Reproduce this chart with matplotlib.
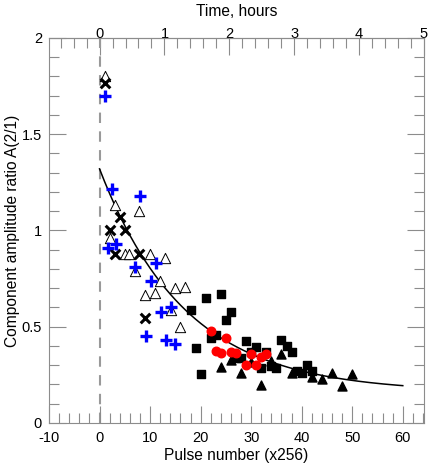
import numpy as np
import matplotlib.pyplot as plt
from matplotlib.ticker import MultipleLocator

plt.rcParams['font.family'] = ['Liberation Sans', 'DejaVu Sans']
plt.rcParams['axes.unicode_minus'] = False

# pulses per hour (x256 units) for the top axis
PPH = 12.84

# blue crosses
plus_x = [1, 2.4, 8.1, 1.6, 3.2, 7.1, 11.1, 10.1, 14.1, 12.1, 9.1, 13.1, 15.0]
plus_y = [1.70, 1.214, 1.18, 0.91, 0.928, 0.81, 0.83, 0.74, 0.60, 0.575, 0.45, 0.43, 0.41]

# black x
x_x = [1, 4, 2, 5, 3, 7.8, 9]
x_y = [1.768, 1.07, 1.00, 1.005, 0.88, 0.88, 0.544]

# open triangles
otri_x = [1, 3, 7.9, 2, 5, 5.9, 9.9, 12.9, 7, 11.9, 8.9, 10.9, 14.9, 17, 14.1, 16]
otri_y = [1.80, 1.13, 1.10, 0.96, 0.88, 0.88, 0.88, 0.855, 0.79, 0.735, 0.665, 0.677,
          0.70, 0.708, 0.587, 0.50]

# black squares
sq_x = [18, 21, 24, 26, 25, 19, 20, 22, 23, 29, 31, 30, 33, 27, 28, 32, 34, 35,
        36, 37, 38, 41, 39, 40, 42]
sq_y = [0.587, 0.648, 0.67, 0.575, 0.535, 0.39, 0.253, 0.44, 0.455, 0.426, 0.397,
        0.369, 0.369, 0.336, 0.336, 0.287, 0.296, 0.286, 0.431, 0.40, 0.369, 0.30,
        0.27, 0.261, 0.27]

# red circles
red_x = [22, 25, 23, 24, 26, 27, 30, 29, 31, 32, 33]
red_y = [0.48, 0.44, 0.376, 0.362, 0.369, 0.362, 0.36, 0.30, 0.30, 0.345, 0.358]

# black filled triangles
tri_x = [24, 26, 28, 30, 32, 34, 36, 38, 42, 44, 46, 48, 50]
tri_y = [0.293, 0.327, 0.258, 0.315, 0.197, 0.324, 0.358, 0.258, 0.24, 0.23, 0.261,
         0.194, 0.253]

# exponential fit y = c + a*exp(-x/tau)
fit_a, fit_tau, fit_c = 1.16, 17.0, 0.16

fig = plt.figure(figsize=(4.36, 4.63), dpi=100)
ax = fig.add_axes([0.1124, 0.0864, 0.8601, 0.8316])

ax.axvline(0, color='#999999', ls=(0, (5, 4)), lw=1.5, zorder=1)

xf = np.linspace(0, 60, 300)
ax.plot(xf, fit_c + fit_a * np.exp(-xf / fit_tau), color='black', lw=1.1, zorder=2)

ax.scatter(otri_x, otri_y, marker='^', s=55, facecolors='white', edgecolors='black',
           linewidths=0.7, zorder=3)
ax.scatter(sq_x, sq_y, marker='s', s=30, color='black', zorder=3)
ax.scatter(tri_x, tri_y, marker='^', s=42, color='black', zorder=3)
ax.scatter(red_x, red_y, marker='o', s=38, color='red', zorder=4)
ax.scatter(x_x, x_y, marker='x', s=48, color='black', linewidths=2.2, zorder=5)
ax.scatter(plus_x, plus_y, marker='+', s=75, color='blue', linewidths=2.4, zorder=5)

ax.set_xlim(-10, 64.2)
ax.set_ylim(0, 2)
ax.xaxis.set_major_locator(MultipleLocator(10))
ax.xaxis.set_minor_locator(MultipleLocator(2))
ax.yaxis.set_minor_locator(MultipleLocator(0.1))
ax.set_yticks([0, 0.5, 1, 1.5, 2], ['0', '0.5', '1', '1.5', '2'])

gray = '#8c8c8c'
for s in ax.spines.values():
    s.set_color(gray)
ax.tick_params(which='both', direction='in', color=gray, right=True, labelsize=10.5)
ax.tick_params(which='major', length=12, width=0.8)
ax.tick_params(which='minor', length=7, width=0.8)
ax.tick_params(axis='x', which='both', top=False, pad=6)
ax.tick_params(axis='y', pad=5)

top = ax.secondary_xaxis('top', functions=(lambda p: p / PPH, lambda h: h * PPH))
top.xaxis.set_major_locator(MultipleLocator(1))
top.xaxis.set_minor_locator(MultipleLocator(0.2))
top.tick_params(which='both', direction='in', color=gray, labelsize=10.5, pad=-2)
top.tick_params(which='major', length=12, width=0.8)
top.tick_params(which='minor', length=7, width=0.8)
top.spines['top'].set_color(gray)
top.set_xlabel('Time, hours', fontsize=11.2, labelpad=8)

ax.set_xlabel('Pulse number (x256)', fontsize=11.2, labelpad=2)
ax.set_ylabel('Component amplitude ratio A(2/1)', fontsize=11.2, labelpad=1)

fig.savefig('out.png', dpi=100)
